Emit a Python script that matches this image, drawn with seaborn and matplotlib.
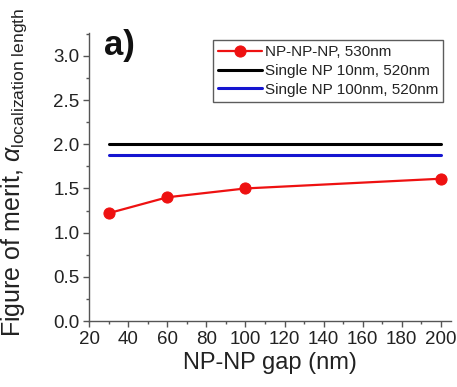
import matplotlib
matplotlib.use("Agg")
import matplotlib.pyplot as plt
from matplotlib.ticker import MultipleLocator
import seaborn as sns
import pandas as pd

gap_nm = [30, 60, 100, 200]
fom_np3 = [1.22, 1.40, 1.50, 1.61]
line_x = [30, 200]
fom_single10 = [2.0, 2.0]
fom_single100 = [1.88, 1.88]
labels = ["NP-NP-NP, 530nm", "Single NP 10nm, 520nm", "Single NP 100nm, 520nm"]

sns.set_theme(style="ticks")
plt.rcParams["font.family"] = ["Liberation Sans", "DejaVu Sans"]
plt.rcParams["mathtext.fontset"] = "custom"
plt.rcParams["mathtext.rm"] = "Liberation Sans"
plt.rcParams["mathtext.it"] = "Liberation Sans:italic"

fig = plt.figure(figsize=(4.57, 3.87), dpi=100)
ax = fig.add_axes([0.195, 0.1705, 0.791, 0.7445])

df1 = pd.DataFrame({"x": gap_nm, "y": fom_np3})
df2 = pd.DataFrame({"x": line_x, "y": fom_single10})
df3 = pd.DataFrame({"x": line_x, "y": fom_single100})

sns.lineplot(data=df1, x="x", y="y", ax=ax, color="#ee1111", lw=1.6, marker="o",
             markersize=8, markeredgecolor="#ee1111", label=labels[0])
sns.lineplot(data=df2, x="x", y="y", ax=ax, color="black", lw=2.2, label=labels[1])
sns.lineplot(data=df3, x="x", y="y", ax=ax, color="#1515d0", lw=2.2, label=labels[2])

ax.set_xlim(20, 205)
ax.set_ylim(0, 3.26)
ax.xaxis.set_major_locator(MultipleLocator(20))
ax.xaxis.set_minor_locator(MultipleLocator(10))
ax.yaxis.set_major_locator(MultipleLocator(0.5))
ax.yaxis.set_minor_locator(MultipleLocator(0.25))
ax.yaxis.set_major_formatter(matplotlib.ticker.FormatStrFormatter("%.1f"))
for s in ["top", "right"]:
    ax.spines[s].set_visible(False)
for s in ["left", "bottom"]:
    ax.spines[s].set_color("#555555")
    ax.spines[s].set_linewidth(1.0)
ax.tick_params(which="major", direction="out", length=4, width=1, color="#555555",
               labelsize=13.5, labelcolor="#222222", pad=3)
ax.tick_params(which="minor", direction="out", length=2.5, width=1, color="#555555")

ax.set_xlabel("NP-NP gap (nm)", fontsize=17, color="#222222", labelpad=3)
ax.set_ylabel(r"Figure of merit, $\alpha_{\mathrm{localization\ length}}$", fontsize=18,
              color="#222222")
ax.yaxis.set_label_coords(-0.165, 0.515)

fig.text(0.228, 0.925, "a)", fontsize=25, fontweight="bold",
         va="top", ha="left", color="#111111")

leg = ax.legend(loc="upper right", bbox_to_anchor=(0.98, 0.975), fontsize=11,
                frameon=True, fancybox=False, handlelength=2.9, handletextpad=0.15,
                borderpad=0.35, labelspacing=0.3, borderaxespad=0)
leg.get_frame().set_edgecolor("#333333")
leg.get_frame().set_linewidth(1.0)
for t in leg.get_texts():
    t.set_color("#222222")

fig.savefig("out.png", dpi=100)
